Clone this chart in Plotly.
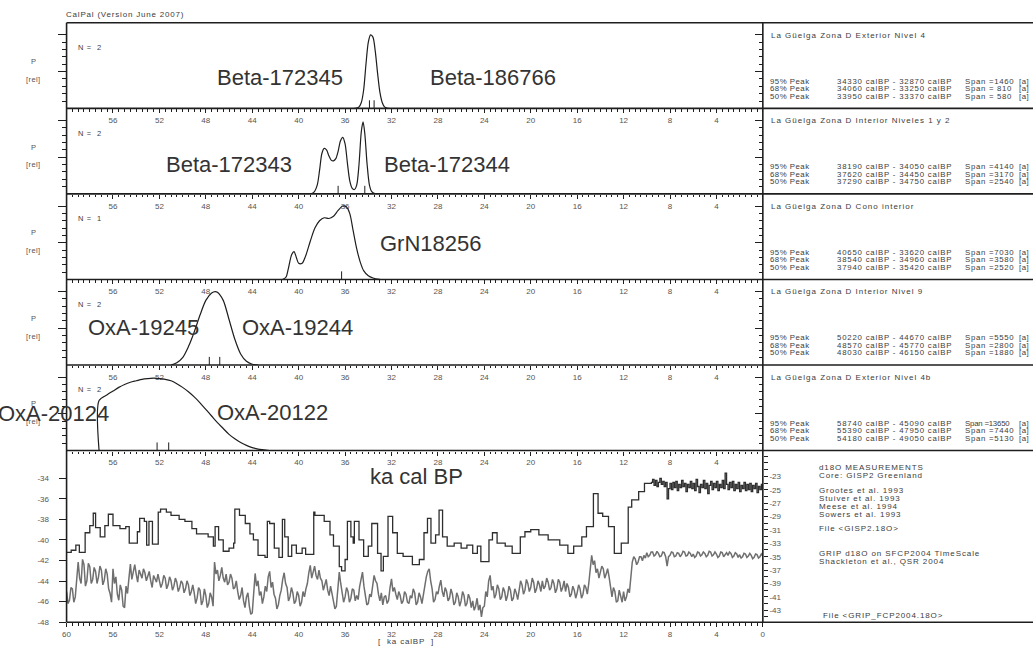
import plotly.graph_objects as go

# ---------------- data ----------------
# calibrated probability curves (age in ka calBP, relative probability)
P1_AGE = [35.2, 35.0, 34.8, 34.6, 34.4, 34.2, 34.0, 33.8, 33.6, 33.4, 33.2, 33.0, 32.8, 32.6, 32.4, 32.2]
P1_P = [0, 0.005, 0.02, 0.08, 0.25, 0.6, 0.9, 1.0, 0.97, 0.78, 0.48, 0.22, 0.08, 0.02, 0.005, 0]
P1_DATES = [33.9, 33.5]

P2_AGE = [39.0, 38.7, 38.4, 38.2, 38.0, 37.8, 37.6, 37.4, 37.2, 37.0, 36.8, 36.6, 36.4, 36.2, 36.0,
          35.8, 35.6, 35.4, 35.2, 35.0, 34.8, 34.6, 34.45, 34.3, 34.1, 33.9, 33.7, 33.4]
P2_P = [0, 0.02, 0.12, 0.32, 0.55, 0.62, 0.6, 0.52, 0.46, 0.45, 0.48, 0.58, 0.72, 0.77, 0.68,
        0.42, 0.18, 0.08, 0.06, 0.12, 0.4, 0.85, 0.98, 0.82, 0.4, 0.12, 0.03, 0]
P2_DATES = [36.6, 34.3]

P3_AGE = [41.4, 41.1, 40.9, 40.6, 40.4, 40.2, 40.0, 39.7, 39.4, 39.0, 38.6, 38.2, 37.8, 37.4, 37.0,
          36.6, 36.2, 35.9, 35.6, 35.3, 35.0, 34.7, 34.4, 34.0, 33.6, 33.0]
P3_P = [0, 0.03, 0.14, 0.34, 0.38, 0.3, 0.22, 0.22, 0.32, 0.52, 0.7, 0.8, 0.84, 0.83, 0.86,
        0.94, 1.0, 0.99, 0.9, 0.66, 0.42, 0.24, 0.12, 0.05, 0.02, 0]
P3_DATES = [36.3]

P4_AGE = [51.0, 50.5, 50.0, 49.5, 49.0, 48.5, 48.0, 47.5, 47.2, 47.0, 46.5, 46.0, 45.5, 45.0, 44.5, 44.0, 43.5]
P4_P = [0, 0.03, 0.1, 0.25, 0.45, 0.68, 0.88, 0.98, 1.0, 0.99, 0.88, 0.62, 0.35, 0.15, 0.05, 0.01, 0]
P4_DATES = [47.7, 46.8]

P5_AGE = [57.2, 57.2, 56.5, 56.0, 55.5, 55.0, 54.5, 54.0, 53.5, 53.0, 52.5, 52.0, 51.5, 51.0, 50.5,
          50.0, 49.5, 49.0, 48.5, 48.0, 47.5, 47.0, 46.5, 46.0, 45.5, 45.0, 44.5, 44.0, 43.5, 43.0, 42.5]
P5_P = [0, 0.68, 0.76, 0.81, 0.86, 0.9, 0.93, 0.95, 0.97, 0.98, 0.985, 0.98, 0.97, 0.95, 0.91,
        0.86, 0.8, 0.73, 0.65, 0.56, 0.47, 0.38, 0.3, 0.22, 0.16, 0.11, 0.07, 0.04, 0.02, 0.01, 0]
P5_DATES = [52.2, 51.2]

# GISP2 d18O (step record)
GISP_AGE = [60.0, 59.6, 59.2, 58.9, 58.4, 58.0, 57.7, 57.5, 57.1, 56.7, 56.4, 56.0, 55.4, 54.9, 54.6,
            53.9, 53.7, 53.3, 53.1, 52.9, 52.6, 52.1, 51.9, 51.4, 51.0, 50.3, 49.8, 49.2, 48.8, 47.8,
            47.35, 47.2, 46.9, 46.5, 46.0, 45.6, 45.5, 45.1, 44.6, 44.2, 43.9, 43.5, 42.9, 42.7, 42.5,
            42.1, 41.7, 41.4, 41.2, 40.9, 40.6, 40.2, 39.7, 39.4, 38.7, 38.6, 37.8, 37.3, 37.0, 36.5,
            36.3, 36.0, 35.8, 35.5, 35.3, 35.2, 34.8, 34.4, 34.0, 33.7, 33.2, 32.9, 32.7, 32.3, 31.9,
            31.5, 31.0, 30.2, 29.6, 29.2, 28.9, 28.6, 28.2, 27.9, 27.6, 27.2, 26.6, 26.0, 25.5, 25.0,
            24.6, 24.3, 23.6, 23.3, 22.9, 22.2, 21.6, 20.9, 20.5, 20.0, 19.3, 18.5, 17.5, 16.8, 16.3,
            15.6, 15.2, 14.6, 14.2, 13.8, 13.3, 12.8, 12.2, 11.6, 11.3, 10.7, 10.2, 9.6,
            9.5, 9.375, 9.25, 9.125, 9.0, 8.875, 8.75, 8.625, 8.5, 8.375, 8.25, 8.125,
            8.0, 7.875, 7.75, 7.625, 7.5, 7.375, 7.25, 7.125, 7.0, 6.875, 6.75, 6.625,
            6.5, 6.375, 6.25, 6.125, 6.0, 5.875, 5.75, 5.625, 5.5, 5.375, 5.25, 5.125,
            5.0, 4.875, 4.75, 4.625, 4.5, 4.375, 4.25, 4.125, 4.0, 3.875, 3.75, 3.625,
            3.5, 3.375, 3.25, 3.125, 3.0, 2.875, 2.75, 2.625, 2.5, 2.375, 2.25, 2.125,
            2.0, 1.875, 1.75, 1.625, 1.5, 1.375, 1.25, 1.125, 1.0, 0.875, 0.75, 0.625,
            0.5, 0.375, 0.25, 0.125, 0.0]
GISP_VAL = [-41.2, -41.0, -40.5, -41.2, -39.3, -38.6, -37.4, -38.8, -39.7, -38.6, -37.5, -38.6, -38.9, -38.7, -40.3,
            -39.2, -37.9, -38.2, -40.5, -38.2, -40.4, -37.3, -37.0, -37.3, -37.6, -38.0, -38.2, -38.9, -39.4, -39.7,
            -40.6, -38.7, -40.0, -41.1, -40.8, -40.3, -37.0, -37.6, -38.4, -39.4, -40.0, -41.5, -41.7, -38.2, -38.4,
            -40.8, -41.7, -38.0, -39.7, -41.6, -40.5, -41.3, -40.8, -41.4, -37.3, -37.6, -38.2, -39.5, -40.6, -42.6,
            -43.0, -41.9, -38.2, -39.7, -40.3, -38.2, -40.0, -41.6, -40.6, -38.4, -41.3, -43.0, -41.6, -37.7, -39.3,
            -41.3, -41.6, -42.4, -41.9, -39.3, -37.9, -40.3, -39.5, -37.1, -39.7, -40.6, -40.3, -40.8, -40.5, -41.3,
            -40.6, -42.1, -40.0, -39.3, -40.3, -40.6, -41.3, -39.7, -39.2, -39.0, -39.5, -40.0, -40.5, -41.3, -40.6,
            -39.7, -38.7, -35.5, -37.4, -37.7, -38.7, -41.3, -40.3, -36.8, -36.1, -35.3, -34.5, -34.4,
            -34.1, -34.7, -34.2, -34.8, -34.4, -34.0, -34.6, -34.3, -34.8, -34.4, -36.0, -35.0,
            -34.5, -35.1, -34.4, -34.9, -34.3, -35.2, -34.6, -34.9, -34.2, -34.8, -34.5, -35.3,
            -34.6, -34.9, -34.3, -35.0, -34.5, -35.2, -34.1, -34.8, -35.4, -34.6, -34.9, -34.2,
            -35.0, -34.5, -35.5, -34.7, -34.3, -35.1, -34.5, -34.9, -34.3, -35.2, -34.6, -34.9,
            -34.2, -35.0, -33.5, -34.6, -35.1, -34.4, -34.9, -34.3, -35.2, -34.6, -35.0, -34.4,
            -35.3, -34.7, -35.0, -34.4, -35.2, -34.6, -35.1, -34.5, -35.3, -34.7, -35.0, -34.5,
            -35.4, -34.8, -35.1, -34.6, -35.0]

# GRIP d18O on SFCP2004 time scale (one row per ka)
GRIP_AGE = [
    60.0, 59.875, 59.75, 59.625, 59.5, 59.375, 59.25, 59.125,
    59.0, 58.875, 58.75, 58.625, 58.5, 58.375, 58.25, 58.125,
    58.0, 57.875, 57.75, 57.625, 57.5, 57.375, 57.25, 57.125,
    57.0, 56.875, 56.75, 56.625, 56.5, 56.375, 56.25, 56.125,
    56.0, 55.875, 55.75, 55.625, 55.5, 55.375, 55.25, 55.125,
    55.0, 54.875, 54.75, 54.625, 54.5, 54.375, 54.25, 54.125,
    54.0, 53.875, 53.75, 53.625, 53.5, 53.375, 53.25, 53.125,
    53.0, 52.875, 52.75, 52.625, 52.5, 52.375, 52.25, 52.125,
    52.0, 51.875, 51.75, 51.625, 51.5, 51.375, 51.25, 51.125,
    51.0, 50.875, 50.75, 50.625, 50.5, 50.375, 50.25, 50.125,
    50.0, 49.875, 49.75, 49.625, 49.5, 49.375, 49.25, 49.125,
    49.0, 48.875, 48.75, 48.625, 48.5, 48.375, 48.25, 48.125,
    48.0, 47.875, 47.75, 47.625, 47.5, 47.375, 47.25, 47.125,
    47.0, 46.875, 46.75, 46.625, 46.5, 46.375, 46.25, 46.125,
    46.0, 45.875, 45.75, 45.625, 45.5, 45.375, 45.25, 45.125,
    45.0, 44.875, 44.75, 44.625, 44.5, 44.375, 44.25, 44.125,
    44.0, 43.875, 43.75, 43.625, 43.5, 43.375, 43.25, 43.125,
    43.0, 42.875, 42.75, 42.625, 42.5, 42.375, 42.25, 42.125,
    42.0, 41.875, 41.75, 41.625, 41.5, 41.375, 41.25, 41.125,
    41.0, 40.875, 40.75, 40.625, 40.5, 40.375, 40.25, 40.125,
    40.0, 39.875, 39.75, 39.625, 39.5, 39.375, 39.25, 39.125,
    39.0, 38.875, 38.75, 38.625, 38.5, 38.375, 38.25, 38.125,
    38.0, 37.875, 37.75, 37.625, 37.5, 37.375, 37.25, 37.125,
    37.0, 36.875, 36.75, 36.625, 36.5, 36.375, 36.25, 36.125,
    36.0, 35.875, 35.75, 35.625, 35.5, 35.375, 35.25, 35.125,
    35.0, 34.875, 34.75, 34.625, 34.5, 34.375, 34.25, 34.125,
    34.0, 33.875, 33.75, 33.625, 33.5, 33.375, 33.25, 33.125,
    33.0, 32.875, 32.75, 32.625, 32.5, 32.375, 32.25, 32.125,
    32.0, 31.875, 31.75, 31.625, 31.5, 31.375, 31.25, 31.125,
    31.0, 30.875, 30.75, 30.625, 30.5, 30.375, 30.25, 30.125,
    30.0, 29.875, 29.75, 29.625, 29.5, 29.375, 29.25, 29.125,
    29.0, 28.875, 28.75, 28.625, 28.5, 28.375, 28.25, 28.125,
    28.0, 27.875, 27.75, 27.625, 27.5, 27.375, 27.25, 27.125,
    27.0, 26.875, 26.75, 26.625, 26.5, 26.375, 26.25, 26.125,
    26.0, 25.875, 25.75, 25.625, 25.5, 25.375, 25.25, 25.125,
    25.0, 24.875, 24.75, 24.625, 24.5, 24.375, 24.25, 24.125,
    24.0, 23.875, 23.75, 23.625, 23.5, 23.375, 23.25, 23.125,
    23.0, 22.875, 22.75, 22.625, 22.5, 22.375, 22.25, 22.125,
    22.0, 21.875, 21.75, 21.625, 21.5, 21.375, 21.25, 21.125,
    21.0, 20.875, 20.75, 20.625, 20.5, 20.375, 20.25, 20.125,
    20.0, 19.875, 19.75, 19.625, 19.5, 19.375, 19.25, 19.125,
    19.0, 18.875, 18.75, 18.625, 18.5, 18.375, 18.25, 18.125,
    18.0, 17.875, 17.75, 17.625, 17.5, 17.375, 17.25, 17.125,
    17.0, 16.875, 16.75, 16.625, 16.5, 16.375, 16.25, 16.125,
    16.0, 15.875, 15.75, 15.625, 15.5, 15.375, 15.25, 15.125,
    15.0, 14.875, 14.75, 14.625, 14.5, 14.375, 14.25, 14.125,
    14.0, 13.875, 13.75, 13.625, 13.5, 13.375, 13.25, 13.125,
    13.0, 12.875, 12.75, 12.625, 12.5, 12.375, 12.25, 12.125,
    12.0, 11.875, 11.75, 11.625, 11.5, 11.375, 11.25, 11.125,
    11.0, 10.875, 10.75, 10.625, 10.5, 10.375, 10.25, 10.125,
    10.0, 9.875, 9.75, 9.625, 9.5, 9.375, 9.25, 9.125,
    9.0, 8.875, 8.75, 8.625, 8.5, 8.375, 8.25, 8.125,
    8.0, 7.875, 7.75, 7.625, 7.5, 7.375, 7.25, 7.125,
    7.0, 6.875, 6.75, 6.625, 6.5, 6.375, 6.25, 6.125,
    6.0, 5.875, 5.75, 5.625, 5.5, 5.375, 5.25, 5.125,
    5.0, 4.875, 4.75, 4.625, 4.5, 4.375, 4.25, 4.125,
    4.0, 3.875, 3.75, 3.625, 3.5, 3.375, 3.25, 3.125,
    3.0, 2.875, 2.75, 2.625, 2.5, 2.375, 2.25, 2.125,
    2.0, 1.875, 1.75, 1.625, 1.5, 1.375, 1.25, 1.125,
    1.0, 0.875, 0.75, 0.625, 0.5, 0.375, 0.25, 0.125,
    0.0]
GRIP_VAL = [
    -40.2, -42.0, -41.5, -39.6, -39.8, -41.8, -41.0, -38.4,
    -35.8, -38.2, -39.0, -35.4, -36.2, -39.4, -38.6, -36.0,
    -36.5, -39.0, -38.4, -36.6, -37.2, -39.0, -38.0, -36.4,
    -37.0, -39.2, -38.5, -36.8, -37.6, -39.8, -40.5, -41.8,
    -36.8, -39.0, -38.0, -40.6, -41.5, -39.2, -40.0, -42.4,
    -42.6, -39.4, -40.5, -38.2, -36.1, -38.4, -37.0, -36.2,
    -37.6, -38.8, -37.0, -37.8, -38.2, -36.8, -37.4, -38.6,
    -38.0, -37.2, -38.6, -39.6, -37.8, -38.2, -38.8, -37.6,
    -38.4, -39.6, -39.0, -37.8, -38.2, -39.8, -39.2, -38.0,
    -38.6, -40.0, -39.4, -38.2, -38.8, -40.2, -39.6, -38.6,
    -39.0, -40.4, -39.8, -38.6, -39.2, -40.8, -40.2, -39.2,
    -40.4, -42.0, -41.2, -39.6, -40.0, -42.2, -41.6, -39.8,
    -40.8, -42.6, -42.0, -40.4, -41.0, -42.4, -35.8, -37.6,
    -37.0, -38.6, -37.8, -36.6, -38.2, -38.8, -37.6, -39.2,
    -38.8, -37.6, -38.2, -39.8, -39.6, -38.6, -40.2, -41.4,
    -40.8, -39.6, -41.6, -42.6, -41.0, -40.4, -42.4, -43.6,
    -43.4, -39.8, -37.5, -39.4, -38.6, -40.8, -40.2, -42.0,
    -41.0, -39.4, -40.2, -38.0, -37.2, -39.6, -38.8, -40.6,
    -41.2, -42.8, -42.2, -40.8, -40.0, -38.4, -37.4, -39.0,
    -39.6, -41.6, -41.0, -39.6, -40.4, -42.0, -41.6, -40.2,
    -40.8, -42.4, -41.8, -40.2, -41.0, -39.8, -39.0, -37.4,
    -36.3, -38.2, -37.2, -36.4, -37.8, -38.4, -37.0, -38.2,
    -38.6, -40.0, -39.2, -38.4, -40.0, -40.8, -39.4, -40.6,
    -41.2, -42.8, -42.4, -39.6, -37.3, -39.0, -40.4, -41.8,
    -41.0, -39.6, -40.2, -41.8, -41.2, -39.8, -40.0, -41.6,
    -40.8, -41.4, -39.5, -38.2, -37.3, -39.4, -40.8, -42.2,
    -42.0, -40.6, -41.0, -39.4, -37.8, -38.6, -39.0, -40.6,
    -41.6, -40.4, -42.2, -41.0, -40.8, -42.0, -41.5, -39.6,
    -38.3, -40.2, -39.6, -40.6, -41.4, -40.2, -40.8, -42.0,
    -41.6, -40.2, -40.6, -41.8, -42.0, -40.8, -41.2, -39.8,
    -40.4, -42.2, -41.8, -40.4, -41.0, -42.0, -40.6, -39.4,
    -38.0, -37.2, -36.8, -38.6, -39.8, -41.8, -41.4, -40.2,
    -40.6, -39.4, -38.5, -40.2, -41.0, -39.6, -40.2, -41.6,
    -41.2, -39.8, -40.6, -42.2, -41.8, -40.4, -41.0, -42.4,
    -41.6, -40.2, -40.8, -42.4, -42.0, -40.6, -41.2, -42.6,
    -41.6, -43.0, -42.4, -41.2, -43.0, -42.2, -44.0, -42.6,
    -42.4, -40.2, -41.0, -38.6, -37.8, -40.0, -39.4, -41.2,
    -40.6, -39.2, -39.8, -41.4, -41.0, -39.6, -40.2, -41.6,
    -40.8, -39.4, -40.0, -41.6, -41.2, -39.8, -40.4, -41.4,
    -39.8, -38.6, -39.2, -40.6, -40.0, -38.4, -39.0, -40.2,
    -39.6, -38.2, -38.8, -40.4, -39.8, -38.6, -39.2, -40.2,
    -38.6, -39.8, -39.4, -38.2, -38.8, -40.0, -39.6, -38.4,
    -39.0, -40.4, -39.8, -38.4, -38.8, -40.2, -39.6, -38.6,
    -40.2, -39.0, -39.6, -41.0, -40.6, -39.4, -40.0, -41.2,
    -40.4, -39.2, -39.8, -41.2, -40.6, -39.2, -39.6, -40.6,
    -39.0, -36.6, -34.8, -36.2, -35.6, -37.4, -36.8, -38.2,
    -37.4, -36.4, -36.8, -38.2, -37.6, -36.8, -38.0, -39.6,
    -41.0, -39.6, -40.2, -41.8, -41.6, -40.0, -40.8, -41.8,
    -40.2, -41.6, -41.0, -39.8, -40.4, -38.0, -35.8, -35.0,
    -35.3, -36.2, -35.8, -35.0, -35.0, -35.6, -34.8, -35.2,
    -34.4, -35.0, -34.8, -34.3, -34.3, -34.9, -34.7, -34.2,
    -34.5, -35.0, -34.9, -34.3, -34.4, -35.0, -36.4, -35.0,
    -34.8, -34.3, -34.4, -35.0, -34.9, -34.4, -34.5, -35.0,
    -34.7, -34.2, -34.3, -34.9, -34.8, -34.3, -34.5, -35.0,
    -34.6, -35.1, -34.9, -34.3, -34.4, -34.9, -34.7, -34.3,
    -34.5, -35.0, -34.8, -34.2, -34.3, -34.9, -34.7, -34.3,
    -34.6, -35.1, -34.9, -34.3, -34.4, -35.0, -34.7, -34.4,
    -34.8, -34.3, -34.5, -35.1, -34.9, -34.4, -34.6, -35.1,
    -34.7, -35.2, -35.0, -34.5, -34.6, -35.1, -34.9, -34.5,
    -34.8, -35.3, -35.1, -34.6, -34.7, -35.2, -35.0, -34.6,
    -34.9]

CURVES = [(P1_AGE, P1_P, P1_DATES), (P2_AGE, P2_P, P2_DATES), (P3_AGE, P3_P, P3_DATES),
          (P4_AGE, P4_P, P4_DATES), (P5_AGE, P5_P, P5_DATES)]

N_DATES = ["N =  2", "N =  2", "N =  1", "N =  2", "N =  2"]
SITE_TITLES = ["La Güelga Zona D Exterior Nivel 4",
               "La Güelga Zona D Interior Niveles 1 y 2",
               "La Güelga Zona D Cono interior",
               "La Güelga Zona D Interior Nivel 9",
               "La Güelga Zona D Exterior Nivel 4b"]
PEAK_LEVELS = ["95% Peak", "68% Peak", "50% Peak"]
PEAK_FROM = [["34330", "34060", "33950"], ["38190", "37620", "37290"], ["40650", "38540", "37940"],
             ["50220", "48570", "48030"], ["58740", "55390", "54180"]]
PEAK_TO = [["32870", "33250", "33370"], ["34050", "34450", "34750"], ["33620", "34960", "35420"],
           ["44670", "45770", "46150"], ["45090", "47950", "49050"]]
PEAK_SPAN = [["=1460", "= 810", "= 580"], ["=4140", "=3170", "=2540"], ["=7030", "=3580", "=2520"],
             ["=5550", "=2800", "=1880"], ["=13650", "=7440", "=5130"]]

LAB_NAMES = ["Beta-172345", "Beta-186766", "Beta-172343", "Beta-172344", "GrN18256",
             "OxA-19245", "OxA-19244", "OxA-20124", "OxA-20122"]

X_TICKS_UP = [56, 52, 48, 44, 40, 36, 32, 28, 24, 20, 16, 12, 8, 4]
X_TICKS_BOT = [60, 56, 52, 48, 44, 40, 36, 32, 28, 24, 20, 16, 12, 8, 4, 0]
GISP_TICKS = [-48, -46, -44, -42, -40, -38, -36, -34]
GRIP_TICKS = [-43, -41, -39, -37, -35, -33, -31, -29, -27, -25, -23]
GISP_TEXT = ["d18O MEASUREMENTS", "Core: GISP2 Greenland", "", "Grootes et al. 1993",
             "Stuiver et al. 1993", "Meese et al. 1994", "Sowers et al. 1993", "", "File <GISP2.18O>"]

# ---------------- geometry ----------------
W, H = 1036, 653
X0, X1 = 63, 764
BOUNDS = [23, 109.2, 195.4, 281.6, 367.8, 454]
BOT = 627
INK = "#1e1e1e"
TXT = "#3c3c3c"
FONT = "Liberation Sans, Arial, Helvetica, sans-serif"


def fx(p):
    return p / W


def fy(p):
    return 1 - p / H


def sp(text, ls):
    return '<span style="letter-spacing:%spx">%s</span>' % (ls, text)


fig = go.Figure()
layout = dict(width=W, height=H, margin=dict(l=0, r=0, t=0, b=0), autosize=False,
              paper_bgcolor="white", plot_bgcolor="white", showlegend=False,
              font=dict(family=FONT, color=TXT, size=8))

annotations = []
shapes = []


def ann(x, y, text, size=8, xanchor="left", color=TXT, ls=None):
    t = sp(text, ls) if ls is not None else text
    if xanchor == "left":
        x -= 3
    annotations.append(dict(x=fx(x), y=fy(y), xref="paper", yref="paper", text=t, showarrow=False,
                            xanchor=xanchor, yanchor="middle", font=dict(size=size, color=color, family=FONT)))


xdom = [fx(X0), fx(X1)]
for i in range(5):
    top, bot = BOUNDS[i], BOUNDS[i + 1]
    xn = "x" if i == 0 else "x%d" % (i + 1)
    yl = "y" if i == 0 else "y%d" % (2 * i + 1)
    yr = "y%d" % (2 * i + 2)
    layout["xaxis" if i == 0 else "xaxis%d" % (i + 1)] = dict(
        domain=xdom, range=[60, 0], anchor=yl, tickmode="array", tickvals=X_TICKS_UP,
        ticktext=[str(v) for v in X_TICKS_UP], ticks="outside", ticklen=4, tickwidth=1, tickcolor=INK,
        minor=dict(tickmode="linear", tick0=0, dtick=0.5, ticks="outside", ticklen=2.5, tickcolor=INK, tickwidth=1),
        showline=False, showgrid=False, zeroline=False, fixedrange=True,
        tickfont=dict(size=8, color="#555", family=FONT))
    ydict = dict(domain=[fy(bot), fy(top)], range=[0, 1.165], tickmode="array", tickvals=[0.5, 1.0],
                 ticklen=8, tickwidth=1, tickcolor=INK, showticklabels=False,
                 minor=dict(tickmode="array", tickvals=[0.1, 0.2, 0.3, 0.4, 0.6, 0.7, 0.8, 0.9],
                            ticklen=4, tickcolor=INK, tickwidth=1),
                 showline=False, showgrid=False, zeroline=False, fixedrange=True)
    left = dict(ydict, anchor=xn, ticks="outside", side="left")
    left["minor"] = dict(ydict["minor"], ticks="outside")
    right = dict(ydict, anchor=xn, ticks="inside", side="right", overlaying=yl)
    right["minor"] = dict(ydict["minor"], ticks="inside")
    layout["yaxis" if i == 0 else "yaxis%d" % (2 * i + 1)] = left
    layout["yaxis%d" % (2 * i + 2)] = right

    ages, probs, dates = CURVES[i]
    fig.add_trace(go.Scatter(x=ages, y=probs, xaxis=xn, yaxis=yl, mode="lines",
                             line=dict(color=INK, width=1.2, shape="spline", smoothing=0.8),
                             hoverinfo="skip"))
    mx, my = [], []
    for d in dates:
        mx += [d, d, None]
        my += [0, 0.11, None]
    fig.add_trace(go.Scatter(x=mx, y=my, xaxis=xn, yaxis=yl, mode="lines",
                             line=dict(color=INK, width=1), hoverinfo="skip"))
    fig.add_trace(go.Scatter(x=[None], y=[None], xaxis=xn, yaxis=yr, mode="lines", hoverinfo="skip"))

    ann(75, top + 25, N_DATES[i], size=7.5, ls=0.6)
    ann(30, top + 39, "P", size=7.5, xanchor="center", color="#555")
    ann(30, top + 57, "[rel]", size=7.5, xanchor="center", color="#555", ls=0.4)
    ann(773, top + 12.5, SITE_TITLES[i], size=8, ls=1.0)
    for k in range(3):
        yy = bot - 27.5 + 7.6 * k
        span = PEAK_SPAN[i][k]
        ann(772, yy, PEAK_LEVELS[k], size=7.8, ls=0.5)
        ann(840, yy, "%s calBP - %s calBP" % (PEAK_FROM[i][k], PEAK_TO[i][k]), size=7.8, ls=0.8)
        ann(969, yy, "Span %s" % span, size=7.8, ls=0.7 if len(span) < 6 else -0.2)
        ann(1023, yy, "[a]", size=7.8, ls=0.5)

# bottom panel
layout["xaxis6"] = dict(domain=xdom, range=[60, 0], anchor="y11", tickmode="array", tickvals=X_TICKS_BOT,
                        ticktext=[str(v) for v in X_TICKS_BOT], ticks="outside", ticklen=4, tickwidth=1,
                        tickcolor=INK,
                        minor=dict(tickmode="linear", tick0=0, dtick=0.5, ticks="outside", ticklen=2.5,
                                   tickcolor=INK, tickwidth=1),
                        showline=False, showgrid=False, zeroline=False, fixedrange=True,
                        tickfont=dict(size=8, color="#555", family=FONT))
layout["yaxis11"] = dict(domain=[fy(BOT), fy(BOUNDS[5])], range=[-48, -31.3], anchor="x6", side="left",
                         tickmode="array", tickvals=GISP_TICKS, ticktext=[str(v) for v in GISP_TICKS],
                         ticks="outside", ticklen=7, tickwidth=1, tickcolor=INK, ticklabelstandoff=8,
                         showline=False, showgrid=False, zeroline=False, fixedrange=True,
                         tickfont=dict(size=8, color="#555", family=FONT))
layout["yaxis12"] = dict(domain=[fy(BOT), fy(BOUNDS[5])], range=[-44.78, -19.15], anchor="x6", side="right",
                         overlaying="y11", tickmode="array", tickvals=GRIP_TICKS,
                         ticktext=[str(v) for v in GRIP_TICKS], ticks="outside", ticklen=4, tickwidth=1,
                         tickcolor=INK, ticklabelstandoff=0,
                         minor=dict(tickmode="linear", tick0=-44, dtick=1, ticks="outside", ticklen=4,
                                    tickcolor=INK, tickwidth=1),
                         showline=False, showgrid=False, zeroline=False, fixedrange=True,
                         tickfont=dict(size=8, color="#555", family=FONT))

fig.add_trace(go.Scatter(x=GRIP_AGE, y=GRIP_VAL, xaxis="x6", yaxis="y12", mode="lines",
                         line=dict(color="#6f6f6f", width=1.5), hoverinfo="skip"))
fig.add_trace(go.Scatter(x=GISP_AGE, y=GISP_VAL, xaxis="x6", yaxis="y11", mode="lines",
                         line=dict(color="#2e2e2e", width=1.3, shape="hv"), hoverinfo="skip"))

for yb in BOUNDS + [BOT]:
    shapes.append(dict(type="line", xref="paper", yref="paper", x0=fx(X0), x1=1, y0=fy(yb), y1=fy(yb),
                       line=dict(color=INK, width=1.6)))
for xb in [X0, X1]:
    shapes.append(dict(type="line", xref="paper", yref="paper", x0=fx(xb), x1=fx(xb), y0=fy(BOUNDS[0]),
                       y1=fy(BOT), line=dict(color=INK, width=1.6)))

ann(63, 15, "CalPal (Version June 2007)", size=8, ls=0.8)
ann(405, 646, "[  ka calBP  ]", size=8, xanchor="center", ls=0.8)
ann(415, 480, "ka cal BP", size=22, xanchor="center", color="#333")

LAB_POS = [(278, 78.5), (492, 78.5), (227, 166), (446, 166), (430, 245),
           (140, 330), (295, 330), (50, 417), (270, 416)]
for name, (lx, ly) in zip(LAB_NAMES, LAB_POS):
    ann(lx, ly, name, size=22, xanchor="center", color="#333")

gy = [470.7, 479, 0, 494.3, 502, 510, 518, 0, 533]
for t, yy in zip(GISP_TEXT, gy):
    if t:
        ann(822, yy, t.replace("<", "&lt;").replace(">", "&gt;"), size=8, ls=0.9)
ann(822, 557.7, "GRIP d18O on SFCP2004 TimeScale", size=8, ls=0.9)
ann(822, 565.7, "Shackleton et al., QSR 2004", size=8, ls=0.9)
ann(826, 620, "File &lt;GRIP_FCP2004.18O&gt;", size=8, ls=0.9)

layout["annotations"] = annotations
layout["shapes"] = shapes
fig.update_layout(**layout)
fig.write_html("out.html")
